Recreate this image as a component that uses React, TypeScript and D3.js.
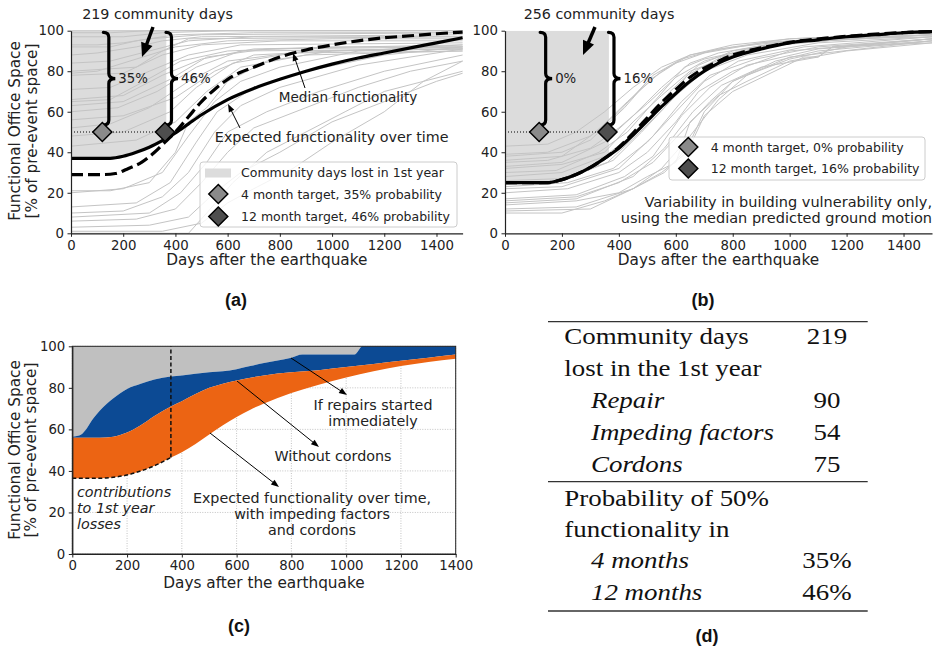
import React, { useEffect, useRef } from 'react';
import * as d3 from 'd3';

type Pt = [number, number];

const FONT = 'DejaVu Sans, sans-serif';
const SERIF = 'Liberation Serif, serif';

const xTicksAB = [0, 200, 400, 600, 800, 1000, 1200, 1400];
const xTicksC = [0, 200, 400, 600, 800, 1000, 1200, 1400];
const yTicks = [0, 20, 40, 60, 80, 100];

// 4 month and 12 month targets (days), at 50% functionality
const targetDays = [120, 360];
const targetLevel = 50;
const targetColors = ['#8a8a8a', '#4e4e4e'];
const probA = ['35%', '46%'];
const probB = ['0%', '16%'];
const legendA = ['Community days lost in 1st year', '4 month target, 35% probability', '12 month target, 46% probability'];
const legendB = ['4 month target, 0% probability', '12 month target, 16% probability'];

// panel (a): full uncertainty
const expectedA: Pt[] = [[0, 37], [150, 37], [200, 38], [250, 40], [300, 42.5], [360, 46.5], [400, 49.5], [450, 54], [500, 58.5], [600, 66], [700, 71.5], [800, 76], [900, 80], [1000, 83.5], [1100, 86.5], [1200, 89], [1300, 91.5], [1400, 94], [1500, 96.5]];
const medianA: Pt[] = [[0, 29], [120, 29], [170, 29.5], [220, 32], [270, 35], [320, 40], [360, 45], [400, 50], [450, 57.5], [500, 65], [550, 71], [600, 76], [650, 79.5], [700, 82], [800, 87], [900, 90.5], [1000, 93], [1100, 95], [1200, 96.5], [1300, 97.5], [1400, 98.5], [1500, 99.3]];
const realizationsA: Pt[][] = [
  [[0, 99], [150, 99], [300, 100], [1500, 100]],
  [[0, 100], [1500, 100]],
  [[0, 97], [200, 97], [350, 99], [600, 100], [1500, 100]],
  [[0, 93], [100, 93], [200, 94], [300, 96], [500, 98], [1500, 99]],
  [[0, 92], [150, 92], [250, 95], [400, 98], [700, 99], [1500, 99]],
  [[0, 88], [100, 89], [250, 92], [350, 95], [500, 97], [1500, 98]],
  [[0, 84], [150, 85], [300, 90], [450, 95], [700, 97], [1500, 97]],
  [[0, 80], [250, 82], [350, 90], [450, 96], [1500, 97]],
  [[0, 79], [100, 80], [250, 86], [400, 92], [600, 95], [1000, 96], [1500, 96]],
  [[0, 78], [200, 79], [350, 88], [500, 93], [800, 95], [1500, 95]],
  [[0, 71], [150, 72], [300, 80], [450, 88], [650, 93], [1500, 94]],
  [[0, 66], [200, 68], [350, 78], [500, 86], [700, 91], [1500, 93]],
  [[0, 65], [150, 66], [280, 75], [420, 85], [600, 90], [1000, 92], [1500, 92]],
  [[0, 63], [200, 65], [380, 76], [520, 87], [750, 91], [1500, 92]],
  [[0, 60], [180, 62], [330, 70], [480, 82], [650, 90], [1500, 91]],
  [[0, 56], [200, 58], [400, 67], [550, 80], [700, 88], [1000, 90], [1500, 91]],
  [[0, 52], [150, 54], [300, 62], [450, 75], [600, 85], [900, 90], [1500, 91]],
  [[0, 48], [200, 50], [380, 60], [480, 72], [620, 84], [850, 89], [1500, 90]],
  [[0, 43], [250, 46], [400, 55], [520, 70], [650, 82], [900, 88], [1500, 90]],
  [[0, 21], [150, 21], [300, 25], [400, 40], [450, 55], [520, 62], [600, 75], [750, 85], [1000, 90], [1500, 92]],
  [[0, 20], [200, 22], [350, 30], [450, 48], [550, 65], [650, 75], [800, 82], [1100, 90], [1500, 93]],
  [[0, 13], [250, 15], [380, 25], [480, 45], [560, 60], [700, 72], [900, 80], [1200, 88], [1500, 92]],
  [[0, 10], [200, 11], [350, 18], [450, 30], [550, 50], [650, 63], [800, 72], [1100, 83], [1500, 91]],
  [[0, 8], [300, 10], [420, 20], [520, 35], [600, 50], [750, 60], [950, 70], [1200, 80], [1500, 88]],
  [[0, 6], [250, 7], [400, 12], [500, 25], [600, 40], [700, 52], [900, 62], [1100, 72], [1300, 80], [1500, 85]],
  [[0, 3], [300, 4], [450, 8], [550, 20], [650, 30], [800, 40], [1000, 55], [1200, 65], [1400, 75], [1500, 79]],
  [[0, 1], [350, 1], [500, 5], [600, 15], [700, 22], [850, 32], [1000, 45], [1200, 60], [1350, 75], [1500, 85]],
  [[0, 0], [450, 0], [520, 10], [620, 25], [750, 40], [900, 50], [1050, 60], [1200, 70], [1500, 80]],
];

// panel (b): building vulnerability only
const expectedB: Pt[] = [[0, 25], [150, 25], [200, 26.5], [250, 29], [300, 32.5], [360, 38], [400, 42], [450, 48.5], [500, 55.5], [550, 62.5], [600, 69], [650, 75], [700, 80], [750, 84], [800, 87], [900, 91], [1000, 94], [1100, 95.5], [1200, 97], [1300, 98], [1400, 99], [1500, 99.5]];
const medianB: Pt[] = [[0, 25], [150, 25], [200, 26.5], [250, 29], [300, 32.5], [360, 38], [400, 42.5], [450, 49.5], [500, 57], [550, 64.5], [600, 71], [650, 77], [700, 81.5], [750, 85], [800, 88], [900, 91.5], [1000, 94.2], [1200, 97.2], [1400, 99.1], [1500, 99.6]];
const realizationsB: Pt[][] = [
  [[0, 43], [150, 44], [250, 50], [350, 60], [450, 72], [550, 82], [650, 88], [800, 93], [1000, 96], [1500, 99]],
  [[0, 39], [150, 40], [300, 48], [400, 60], [500, 75], [600, 84], [700, 89], [900, 94], [1200, 97], [1500, 99]],
  [[0, 38], [200, 40], [300, 46], [420, 62], [520, 78], [620, 86], [750, 91], [1000, 95], [1500, 98]],
  [[0, 36], [200, 38], [320, 50], [430, 65], [550, 80], [650, 88], [800, 92], [1000, 96], [1500, 99]],
  [[0, 35], [150, 36], [300, 42], [400, 52], [500, 64], [600, 77], [700, 85], [850, 91], [1100, 96], [1500, 98]],
  [[0, 33], [200, 35], [350, 45], [450, 58], [550, 72], [650, 84], [750, 89], [1000, 95], [1500, 98]],
  [[0, 32], [200, 34], [350, 40], [450, 55], [550, 68], [650, 80], [800, 88], [1000, 94], [1500, 98]],
  [[0, 30], [180, 31], [330, 40], [430, 50], [530, 66], [630, 82], [700, 86], [900, 92], [1200, 96], [1500, 97]],
  [[0, 28], [200, 30], [350, 38], [480, 52], [580, 70], [680, 83], [800, 90], [1000, 95], [1500, 99]],
  [[0, 26], [200, 27], [360, 35], [460, 48], [560, 62], [640, 78], [760, 87], [1000, 94], [1500, 98]],
  [[0, 24], [200, 26], [380, 36], [480, 50], [600, 68], [700, 80], [850, 88], [1100, 94], [1500, 97]],
  [[0, 23], [220, 25], [380, 32], [500, 45], [600, 60], [700, 75], [820, 85], [1050, 92], [1500, 97]],
  [[0, 22], [200, 23], [400, 32], [520, 48], [620, 65], [720, 78], [880, 86], [1100, 92], [1500, 96]],
  [[0, 20], [220, 22], [400, 30], [500, 40], [600, 55], [680, 70], [800, 80], [1000, 90], [1500, 96]],
  [[0, 17], [250, 19], [420, 28], [520, 38], [620, 58], [720, 72], [850, 83], [1100, 91], [1500, 95]],
  [[0, 16], [250, 18], [400, 25], [520, 35], [620, 50], [720, 65], [800, 75], [950, 85], [1100, 90], [1500, 95]],
  [[0, 15], [250, 17], [450, 28], [560, 42], [660, 60], [760, 73], [900, 82], [1100, 87], [1150, 92], [1500, 94]],
  [[0, 14], [250, 16], [400, 20], [500, 28], [600, 35], [650, 55], [750, 68], [850, 75], [1000, 85], [1200, 90], [1500, 94]],
  [[0, 12], [250, 13], [450, 22], [560, 30], [640, 42], [700, 60], [800, 75], [1000, 87], [1500, 95]],
  [[0, 10], [200, 10], [350, 16], [450, 22], [550, 32], [650, 48], [750, 66], [850, 78], [1000, 86], [1200, 92], [1500, 96]],
  [[0, 11], [300, 12], [450, 22], [550, 30], [640, 40], [700, 58], [800, 70], [1050, 87], [1100, 87], [1150, 92], [1500, 96]],
];

// panel (c): contributions to losses
const repairsNowC: Pt[] = [[0, 56.5], [25, 57], [50, 60], [75, 65], [100, 69], [150, 75], [200, 79.5], [250, 82], [300, 84], [360, 85.5], [400, 86], [500, 87.5], [550, 88], [600, 89], [650, 90.5], [700, 92], [800, 94.5], [840, 96], [1030, 96], [1060, 100], [1400, 100]];
const noCordonsC: Pt[] = [[0, 56], [100, 56], [150, 56.5], [200, 58.5], [250, 62], [300, 66.5], [360, 71], [400, 73.5], [450, 77], [500, 80], [550, 82], [600, 83.5], [700, 86], [800, 87.5], [900, 88.5], [1000, 90], [1100, 91.5], [1200, 93], [1300, 94.5], [1400, 96]];
const expectedC: Pt[] = [[0, 36.5], [100, 36.5], [150, 37], [200, 38], [250, 40], [300, 42.5], [360, 46.5], [400, 49], [450, 53], [500, 57.5], [550, 62], [600, 66], [650, 69.5], [700, 72.5], [800, 77.5], [900, 81.5], [1000, 85], [1100, 88], [1200, 90.5], [1300, 92.5], [1400, 94]];

// panel (d)
const tableTop: [string, string, boolean][] = [
  ['Community days', '219', false],
  ['lost in the 1st year', '', false],
  ['Repair', '90', true],
  ['Impeding factors', '54', true],
  ['Cordons', '75', true],
];
const tableBottom: [string, string, boolean][] = [
  ['Probability of 50%', '', false],
  ['functionality in', '', false],
  ['4 months', '35%', true],
  ['12 months', '46%', true],
];

type Sel = d3.Selection<any, any, any, any>;
type Scale = d3.ScaleLinear<number, number>;

function axes(g: Sel, x: Scale, y: Scale, xt: number[]) {
  const ax = g.append('g').attr('transform', `translate(0,${y.range()[0]})`)
    .call(d3.axisBottom(x).tickValues(xt).tickFormat(d3.format('d')).tickSize(3.5).tickPadding(3.5).tickSizeOuter(0));
  const ay = g.append('g').attr('transform', `translate(${x.range()[0]},0)`)
    .call(d3.axisLeft(y).tickValues(yTicks).tickFormat(d3.format('d')).tickSize(3.5).tickPadding(3.5).tickSizeOuter(0));
  [ax, ay].forEach(a => {
    a.selectAll('text').attr('font-size', 13.3).attr('font-family', FONT).attr('fill', '#222');
    a.select('.domain').attr('stroke', '#222').attr('stroke-width', 1.2);
    a.selectAll('.tick line').attr('stroke', '#222');
  });
}

function axisTitles(g: Sel, cx: number, xBase: number, cy: number, b1: number, b2: number) {
  g.append('text').attr('x', cx).attr('y', xBase).attr('text-anchor', 'middle')
    .attr('font-family', FONT).attr('font-size', 15.3).attr('fill', '#222').text('Days after the earthquake');
  const yl = g.append('g').attr('transform', `translate(0,${cy}) rotate(-90)`)
    .attr('font-family', FONT).attr('font-size', 15.3).attr('fill', '#222').attr('text-anchor', 'middle');
  yl.append('text').attr('y', b1).text('Functional Office Space');
  yl.append('text').attr('y', b2).text('[% of pre-event space]');
}

function arrow(g: Sel, x1: number, y1: number, x2: number, y2: number, thick: boolean) {
  const dx = x2 - x1, dy = y2 - y1, len = Math.hypot(dx, dy);
  const ux = dx / len, uy = dy / len;
  const hl = thick ? 14 : 8, hw = thick ? 6 : 3;
  g.append('line').attr('x1', x1).attr('y1', y1)
    .attr('x2', x2 - ux * hl * 0.8).attr('y2', y2 - uy * hl * 0.8)
    .attr('stroke', '#000').attr('stroke-width', thick ? 3.5 : 1);
  const bx = x2 - ux * hl, by = y2 - uy * hl;
  g.append('path')
    .attr('d', `M${x2},${y2}L${bx - uy * hw},${by + ux * hw}L${bx + uy * hw},${by - ux * hw}Z`)
    .attr('fill', '#000');
}

function diamond(g: Sel, cx: number, cy: number, fill: string, r = 9.5) {
  g.append('path').attr('d', `M${cx},${cy - r}L${cx + r},${cy}L${cx},${cy + r}L${cx - r},${cy}Z`)
    .attr('fill', fill).attr('stroke', '#000').attr('stroke-width', 1.5);
}

function brace(g: Sel, xl: number, yt: number, yb: number) {
  const xm = xl + 5.5, xr = xl + 12, ym = (yt + yb) / 2, r = 5;
  g.append('path')
    .attr('d', `M${xl},${yt}Q${xm},${yt} ${xm},${yt + r}L${xm},${ym - r}Q${xm},${ym} ${xr},${ym}` +
      `Q${xm},${ym} ${xm},${ym + r}L${xm},${yb - r}Q${xm},${yb} ${xl},${yb}`)
    .attr('fill', 'none').attr('stroke', '#000').attr('stroke-width', 3.2).attr('stroke-linecap', 'round');
  return { xr, ym };
}

function curvesPanel(svg: Sel, id: string, x: Scale, y: Scale, expected: Pt[], median: Pt[], runs: Pt[][], probs: string[]) {
  const g = svg.append('g');
  g.append('clipPath').attr('id', id).append('rect')
    .attr('x', x(0)).attr('y', y(100)).attr('width', x(365) - x(0)).attr('height', y(0) - y(100));
  const area = d3.area<Pt>().x(d => x(d[0])).y0(y(100)).y1(d => y(d[1])).curve(d3.curveMonotoneX);
  g.append('path').attr('d', area(expected)).attr('fill', '#dcdcdc').attr('clip-path', `url(#${id})`);

  const line = d3.line<Pt>().x(d => x(d[0])).y(d => y(d[1]));
  g.selectAll('path.run').data(runs).enter().append('path').attr('class', 'run')
    .attr('d', d => line(d)).attr('fill', 'none').attr('stroke', '#c4c4c4').attr('stroke-width', 1);

  g.append('line').attr('x1', x(0)).attr('x2', x(targetDays[1])).attr('y1', y(targetLevel)).attr('y2', y(targetLevel))
    .attr('stroke', '#000').attr('stroke-width', 1).attr('stroke-dasharray', '1,2');

  const smooth = d3.line<Pt>().x(d => x(d[0])).y(d => y(d[1])).curve(d3.curveMonotoneX);
  g.append('path').attr('d', smooth(expected)).attr('fill', 'none').attr('stroke', '#000').attr('stroke-width', 3.2);
  g.append('path').attr('d', smooth(median)).attr('fill', 'none').attr('stroke', '#000').attr('stroke-width', 3.2)
    .attr('stroke-dasharray', '12,5');

  targetDays.forEach((d, i) => {
    const b = brace(g, x(d) + 1, y(99.2), y(53.5));
    g.append('text').attr('x', b.xr + 3).attr('y', b.ym).attr('dominant-baseline', 'central')
      .attr('font-family', FONT).attr('font-size', 13.3).attr('fill', '#222').text(probs[i]);
    diamond(g, x(d), y(targetLevel), targetColors[i]);
  });
  axes(g, x, y, xTicksAB);
  return g;
}

export default function App() {
  const ref = useRef<SVGSVGElement>(null);

  useEffect(() => {
    const svg = d3.select(ref.current);
    svg.selectAll('*').remove();

    const xA = d3.scaleLinear().domain([0, 1500]).range([71, 462.6]);
    const yAB = d3.scaleLinear().domain([0, 100]).range([233.3, 30.7]);
    const xB = d3.scaleLinear().domain([0, 1500]).range([505, 932]);
    const xC = d3.scaleLinear().domain([0, 1400]).range([72.3, 455.7]);
    const yC = d3.scaleLinear().domain([0, 100]).range([554, 346.3]);

    const t = (g: Sel, x: number, y: number, s: string, size = 14.3, anchor = 'middle') =>
      g.append('text').attr('x', x).attr('y', y).attr('text-anchor', anchor)
        .attr('font-family', FONT).attr('font-size', size).attr('fill', '#222').text(s);

    // ---- (a)
    const gA = curvesPanel(svg, 'clipA', xA, yAB, expectedA, medianA, realizationsA, probA);
    t(gA, 157.5, 19, '219 community days');
    arrow(gA, 153, 27, 142, 57, true);
    t(gA, 348, 102, 'Median functionality', 13.6);
    arrow(gA, 305, 88, 293, 53, false);
    t(gA, 331.7, 142, 'Expected functionality over time');
    arrow(gA, 240, 128, 228, 104, false);
    // legend (a)
    gA.append('rect').attr('x', 200).attr('y', 162).attr('width', 257).attr('height', 65).attr('rx', 3)
      .attr('fill', '#fff').attr('fill-opacity', 0.8).attr('stroke', '#ccc');
    gA.append('rect').attr('x', 205).attr('y', 168.5).attr('width', 26).attr('height', 9).attr('fill', '#dcdcdc');
    diamond(gA, 218.3, 194, targetColors[0]);
    diamond(gA, 218.3, 216.5, targetColors[1]);
    [172.7, 194, 216.5].forEach((yy, i) =>
      t(gA, 241, yy, legendA[i], 12.5, 'start').attr('dominant-baseline', 'central'));
    axisTitles(gA, (71 + 462.6) / 2, 265, 131, 20, 36.5);

    // ---- (b)
    const gB = curvesPanel(svg, 'clipB', xB, yAB, expectedB, medianB, realizationsB, probB);
    t(gB, 599, 19, '256 community days');
    arrow(gB, 595, 27, 583, 55, true);
    gB.append('rect').attr('x', 669).attr('y', 137).attr('width', 256).attr('height', 43).attr('rx', 3)
      .attr('fill', '#fff').attr('fill-opacity', 0.8).attr('stroke', '#ccc');
    diamond(gB, 688.3, 147, targetColors[0]);
    diamond(gB, 688.3, 168.5, targetColors[1]);
    [147, 168.5].forEach((yy, i) =>
      t(gB, 710.7, yy, legendB[i], 12.5, 'start').attr('dominant-baseline', 'central'));
    t(gB, 932, 207, 'Variability in building vulnerability only,', 14.5, 'end');
    t(gB, 932, 223, 'using the median predicted ground motion', 14.5, 'end');
    t(gB, (505 + 932) / 2, 265, 'Days after the earthquake', 15.3);

    // ---- (c)
    const gC = svg.append('g');
    const grid = gC.append('g').attr('stroke', '#b4b4b4').attr('stroke-width', 0.8).attr('stroke-dasharray', '1,1.5');
    xTicksC.forEach(v => grid.append('line').attr('x1', xC(v)).attr('x2', xC(v)).attr('y1', yC(0)).attr('y2', yC(100)));
    yTicks.forEach(v => grid.append('line').attr('x1', xC(0)).attr('x2', xC(1400)).attr('y1', yC(v)).attr('y2', yC(v)));

    const lineC = d3.line<Pt>().x(d => xC(d[0])).y(d => yC(d[1])).curve(d3.curveMonotoneX);
    // band between an upper series (or the 100% line) and a lower series
    const band = (top: Pt[] | null, bottom: Pt[], fill: string) => {
      const upper = top ? lineC(top)! : `M${xC(0)},${yC(100)}L${xC(1400)},${yC(100)}`;
      const lower = lineC(bottom.slice().reverse())!;
      gC.append('path').attr('d', upper + 'L' + lower.slice(1) + 'Z').attr('fill', fill);
    };
    band(null, repairsNowC, '#c0c0c0');
    band(repairsNowC, noCordonsC, '#0c4a94');
    band(noCordonsC, expectedC, '#ec6413');

    const firstYear = expectedC.filter(d => d[0] <= 360);
    const last = firstYear[firstYear.length - 1];
    gC.append('path').attr('d', lineC(firstYear)!)
      .attr('fill', 'none').attr('stroke', '#111').attr('stroke-width', 1.5).attr('stroke-dasharray', '4,2.5');
    gC.append('line').attr('x1', xC(last[0])).attr('x2', xC(last[0])).attr('y1', yC(last[1])).attr('y2', yC(100))
      .attr('stroke', '#111').attr('stroke-width', 1.5).attr('stroke-dasharray', '4,2.5');
    axes(gC, xC, yC, xTicksC);
    gC.append('rect').attr('x', xC(0)).attr('y', yC(100)).attr('width', xC(1400) - xC(0)).attr('height', yC(0) - yC(100))
      .attr('fill', 'none').attr('stroke', '#222').attr('stroke-width', 1);
    t(gC, 373, 410, 'If repairs started');
    t(gC, 373, 426, 'immediately');
    arrow(gC, 291, 358, 347, 395, false);
    t(gC, 333, 461, 'Without cordons');
    arrow(gC, 237, 381, 319, 447, false);
    t(gC, 312, 503, 'Expected functionality over time,');
    t(gC, 312, 519, 'with impeding factors');
    t(gC, 312, 535, 'and cordons');
    arrow(gC, 210, 433, 279, 487, false);
    ['contributions', 'to 1st year', 'losses'].forEach((s, i) =>
      t(gC, 77, 496.7 + i * 16.3, s, 14.3, 'start').attr('font-style', 'italic'));
    axisTitles(gC, (72.3 + 455.7) / 2, 588, 450, 19.5, 35.5);

    // ---- (d) table
    const gD = svg.append('g');
    [321.7, 481.7, 611].forEach(yy => gD.append('line').attr('x1', 548).attr('x2', 867.7).attr('y1', yy).attr('y2', yy)
      .attr('stroke', '#333').attr('stroke-width', 1.3));
    const sx = 1.17;
    const tb = gD.append('g').attr('transform', `translate(564.3,0) scale(${sx},1)`)
      .attr('font-family', SERIF).attr('font-size', 23).attr('fill', '#111');
    const rows = (data: [string, string, boolean][], y0: number, step: number) => data.forEach(([lab, val, it], i) => {
      const yy = y0 + i * step;
      tb.append('text').attr('x', it ? (591 - 564.3) / sx : 0).attr('y', yy)
        .attr('font-style', it ? 'italic' : 'normal').text(lab);
      if (val) tb.append('text').attr('x', (827 - 564.3) / sx).attr('y', yy).attr('text-anchor', 'middle').text(val);
    });
    rows(tableTop, 344.3, 31.85);
    rows(tableBottom, 505.7, 31.4);

    // panel labels
    [['(a)', 236, 306], ['(b)', 703, 306], ['(c)', 239, 632], ['(d)', 707, 642]].forEach(([s, x, y]) =>
      svg.append('text').attr('x', x as number).attr('y', y as number).attr('text-anchor', 'middle')
        .attr('font-family', 'Liberation Sans, Arial, sans-serif').attr('font-weight', 'bold').attr('font-size', 18)
        .attr('fill', '#111').text(s as string));
  }, []);

  return (
    <svg ref={ref} width={937} height={652}
      style={{ position: 'absolute', left: 0, top: 0, background: '#fff' }} />
  );
}
